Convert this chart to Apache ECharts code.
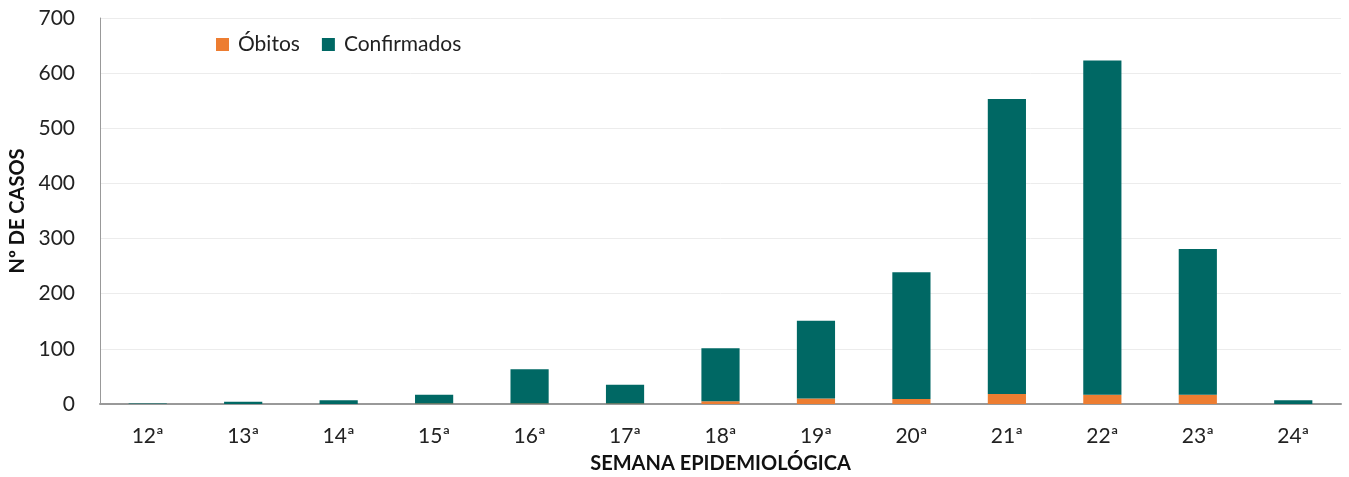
<!DOCTYPE html>
<html>
<head>
    <meta charset="utf-8">
    <title>Casos por semana epidemiológica</title>
    <script type="text/javascript" src="https://cdn.jsdelivr.net/npm/echarts@6/dist/echarts.min.js"></script>
    <style>
        body { margin: 0; background: #fff; }
        #main { width: 1349px; height: 477px; }
    </style>
</head>
<body>
    <div id="main"></div>
    <script type="text/javascript">
        // data
        var semanas = ['12ª', '13ª', '14ª', '15ª', '16ª', '17ª', '18ª', '19ª', '20ª', '21ª', '22ª', '23ª', '24ª'];
        var obitos = [0, 0, 0, 1, 1, 1, 5, 10, 9, 18, 17, 17, 0];
        var confirmados = [1, 4, 7, 16, 62, 34, 96, 141, 230, 535, 606, 264, 7];
        var yTicks = [0, 100, 200, 300, 400, 500, 600, 700];

        var fontFamily = 'Lato, "Open Sans", sans-serif';
        var option = {
            animation: false,
            textStyle: { fontFamily: fontFamily },
            legend: {
                left: 211,
                top: 29,
                itemWidth: 13,
                itemHeight: 13,
                itemGap: 22,
                icon: 'rect',
                textStyle: { fontSize: 21, color: '#222', fontFamily: fontFamily, padding: [0, 0, 0, 4] },
                data: ['Óbitos', 'Confirmados']
            },
            grid: { left: 100, right: 8, top: 18, bottom: 73, outerBoundsMode: 'none', containLabel: false },
            xAxis: {
                type: 'category',
                data: semanas,
                name: 'SEMANA EPIDEMIOLÓGICA',
                nameLocation: 'middle',
                nameGap: 50,
                nameTextStyle: { fontSize: 20, fontWeight: 'bold', color: '#111', fontFamily: fontFamily },
                axisLine: { lineStyle: { color: '#999', width: 2 } },
                axisTick: { show: false },
                axisLabel: { fontSize: 21, color: '#222', margin: 22 }
            },
            yAxis: {
                type: 'value',
                min: yTicks[0],
                max: yTicks[yTicks.length - 1],
                interval: 100,
                name: 'Nº DE CASOS',
                nameLocation: 'middle',
                nameGap: 70,
                nameTextStyle: { fontSize: 20, fontWeight: 'bold', color: '#111', fontFamily: fontFamily },
                axisLine: { show: true, lineStyle: { color: '#999', width: 1 } },
                axisTick: { show: false },
                axisLabel: { fontSize: 21, color: '#222', margin: 25 },
                splitLine: { lineStyle: { color: '#ececec' } }
            },
            series: [
                {
                    name: 'Óbitos',
                    type: 'bar',
                    stack: 'casos',
                    barWidth: '40%',
                    itemStyle: { color: '#ED7D31' },
                    data: obitos
                },
                {
                    name: 'Confirmados',
                    type: 'bar',
                    stack: 'casos',
                    barWidth: '40%',
                    itemStyle: { color: '#006864' },
                    data: confirmados
                }
            ]
        };
        echarts.init(document.getElementById('main')).setOption(option);
    </script>
</body>
</html>
